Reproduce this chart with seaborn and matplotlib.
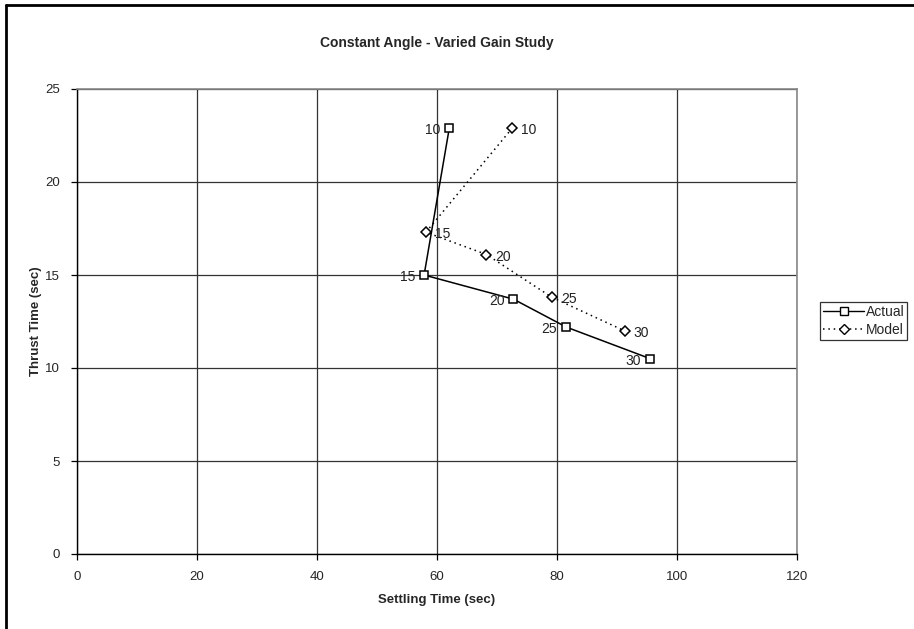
import matplotlib
matplotlib.use("Agg")
import matplotlib.pyplot as plt
from matplotlib.lines import Line2D
import pandas as pd
import seaborn as sns

# Gain settings tested
gains = [10, 15, 20, 25, 30]

# Measured results
actual_settling = [62.1, 57.9, 72.8, 81.6, 95.6]
actual_thrust = [22.9, 15.0, 13.7, 12.2, 10.5]

# Model predictions
model_settling = [72.6, 58.2, 68.3, 79.2, 91.3]
model_thrust = [22.9, 17.3, 16.1, 13.8, 12.0]

x_ticks = [0, 20, 40, 60, 80, 100, 120]
y_ticks = [0, 5, 10, 15, 20, 25]

df = pd.concat([
    pd.DataFrame({"series": "Actual", "gain": gains,
                  "settling": actual_settling, "thrust": actual_thrust}),
    pd.DataFrame({"series": "Model", "gain": gains,
                  "settling": model_settling, "thrust": model_thrust}),
], ignore_index=True)

sns.set_style("white")
plt.rcParams["font.family"] = ["Liberation Sans", "DejaVu Sans"]

W, H = 914, 629
fig = plt.figure(figsize=(W / 100, H / 100), dpi=100)
ax = fig.add_axes([76.7 / W, 1 - 554 / H, 720 / W, 465 / H])

sns.lineplot(
    data=df, x="settling", y="thrust", hue="series", style="series",
    palette={"Actual": "black", "Model": "black"},
    markers={"Actual": "s", "Model": "D"},
    dashes={"Actual": "", "Model": (1, 2.5)},
    sort=False, estimator=None, ax=ax, legend=False,
    linewidth=1.1, markersize=6, markeredgewidth=1.1,
)
for ln in ax.lines:
    ln.set_markerfacecolor("white")
    ln.set_markeredgecolor("black")
    if ln.get_marker() == "D":
        ln.set_markersize(5)

# Gain annotations
for g, x, y in zip(gains, actual_settling, actual_thrust):
    ax.annotate(str(g), (x, y), xytext=(-6.5, -1.5), textcoords="offset points",
                ha="right", va="center", fontsize=10, color="#222222")
for g, x, y in zip(gains, model_settling, model_thrust):
    ax.annotate(str(g), (x, y), xytext=(6.5, -1.5), textcoords="offset points",
                ha="left", va="center", fontsize=10, color="#222222")

ax.set_xlim(0, 120)
ax.set_ylim(0, 25)
ax.set_xticks(x_ticks)
ax.set_yticks(y_ticks)
ax.set_xticklabels([str(t) for t in x_ticks], fontsize=9.5)
ax.set_yticklabels([str(t) for t in y_ticks], fontsize=9.5)
ax.grid(True, color="#333333", linewidth=0.9)
ax.set_axisbelow(True)
ax.tick_params(axis="both", direction="out", length=4, width=0.9,
               color="black", pad=8, bottom=True, left=True)
for side in ("top", "right"):
    ax.spines[side].set_color("#888888")
    ax.spines[side].set_linewidth(1.2)
for side in ("left", "bottom"):
    ax.spines[side].set_color("black")
    ax.spines[side].set_linewidth(1.0)

ax.set_xlabel("Settling Time (sec)", fontsize=9.5, fontweight="bold", labelpad=8)
ax.set_ylabel("Thrust Time (sec)", fontsize=9.5, fontweight="bold", labelpad=2)
ax.set_title("Constant Angle - Varied Gain Study", fontsize=10,
             fontweight="bold", pad=30)

handles = [
    Line2D([], [], color="black", linestyle="-", marker="s", markersize=6,
           markerfacecolor="white", linewidth=1.0),
    Line2D([], [], color="black", linestyle=(0, (1, 2.5)), marker="D",
           markersize=5, markerfacecolor="white", linewidth=1.1),
]
leg = fig.legend(handles, ["Actual", "Model"], loc="center left",
                 bbox_to_anchor=(820 / W, 1 - 321 / H), fontsize=10,
                 frameon=True, fancybox=False, edgecolor="black",
                 handlelength=3.0, handletextpad=0.1, borderpad=0.2,
                 labelspacing=0.25, borderaxespad=0)
leg.get_frame().set_linewidth(0.9)

# Chart frame: top and left edges
fig.add_artist(Line2D([6 / W, 1.0], [1 - 4.5 / H, 1 - 4.5 / H],
                      transform=fig.transFigure, color="black", linewidth=2.0))
fig.add_artist(Line2D([6 / W, 6 / W], [0.0, 1 - 4.5 / H],
                      transform=fig.transFigure, color="black", linewidth=2.0))

fig.savefig("out.png", dpi=100)
